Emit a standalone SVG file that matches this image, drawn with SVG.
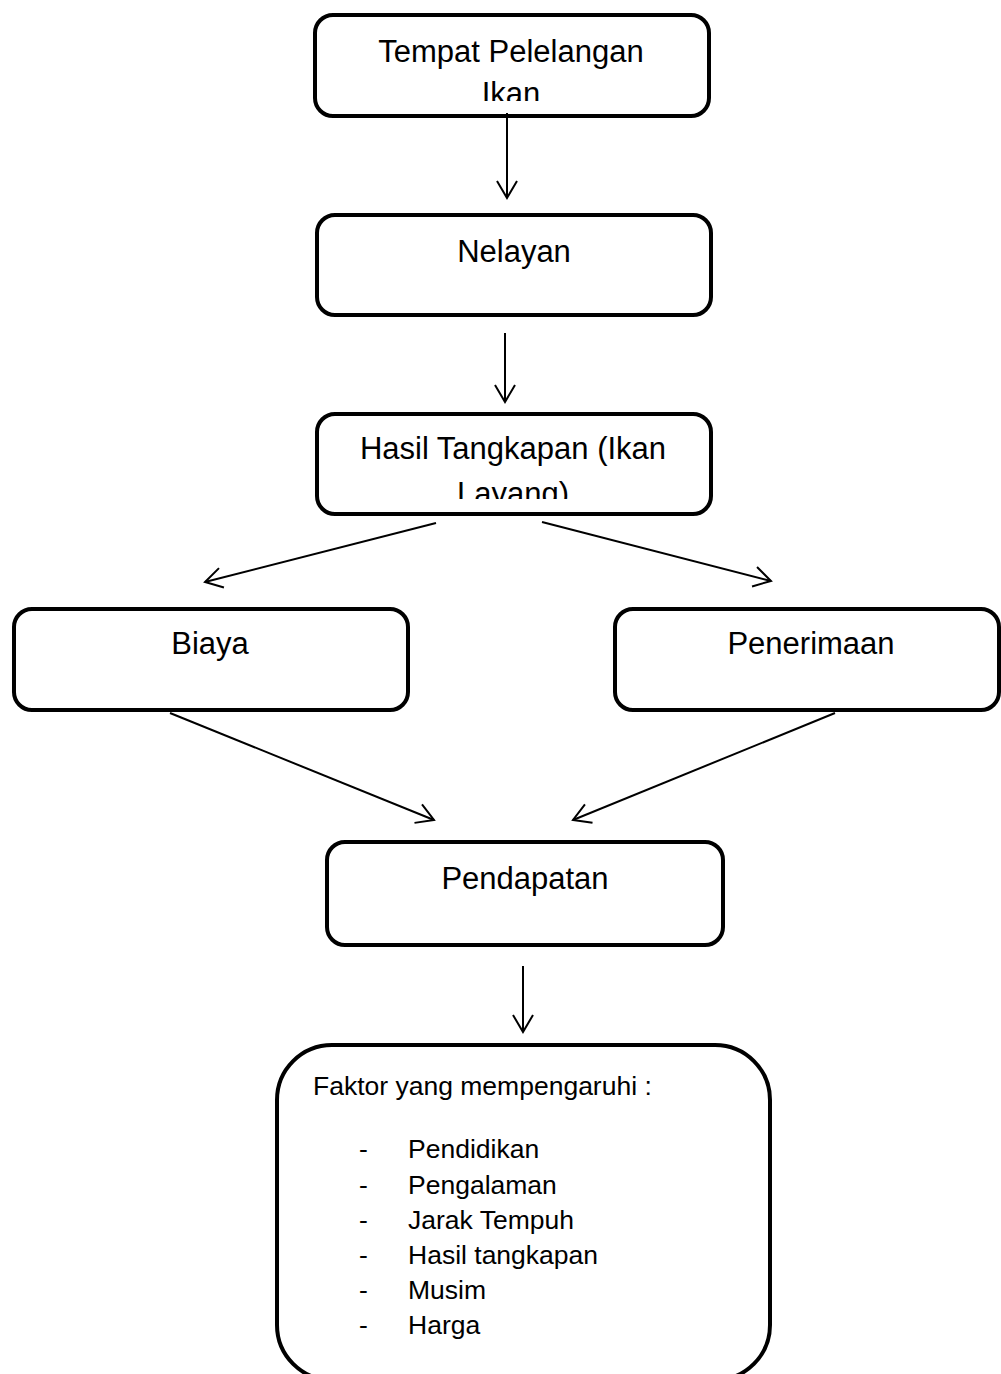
<svg xmlns="http://www.w3.org/2000/svg" width="1001" height="1374" viewBox="0 0 1001 1374">
<style>
.box{fill:#fff;stroke:#000;stroke-width:4}
.t{font-family:"Liberation Sans",Arial,sans-serif;font-size:31px;fill:#000;text-anchor:middle}
.l{font-family:"Liberation Sans",Arial,sans-serif;font-size:26.5px;fill:#000}
.c{fill:none;stroke:#000;stroke-width:2}
</style>
<defs>
<marker id="arr" markerUnits="userSpaceOnUse" viewBox="-20 -12 22 24" refX="0" refY="0" markerWidth="22" markerHeight="24" orient="auto" overflow="visible">
<path d="M-17,-10 L0,0 L-17,10" fill="none" stroke="#000" stroke-width="2"/>
</marker>
<clipPath id="clip1"><rect x="315" y="15" width="394" height="86"/></clipPath>
<clipPath id="clip3"><rect x="317" y="414" width="394" height="85"/></clipPath>
</defs>
<rect width="1001" height="1374" fill="#fff"/>
<g id="node-tpi">
<rect class="box" x="315" y="15" width="394" height="101" rx="18"/>
<g clip-path="url(#clip1)">
<text class="t" x="511" y="62">Tempat Pelelangan</text>
<text class="t" x="511" y="104">Ikan</text>
</g>
</g>
<g id="node-nelayan">
<rect class="box" x="317" y="215" width="394" height="100" rx="18"/>
<text class="t" x="514" y="262">Nelayan</text>
</g>
<g id="node-hasil">
<rect class="box" x="317" y="414" width="394" height="100" rx="18"/>
<g clip-path="url(#clip3)">
<text class="t" x="513" y="459">Hasil Tangkapan (Ikan</text>
<text class="t" x="513" y="504">Layang)</text>
</g>
</g>
<g id="node-biaya">
<rect class="box" x="14" y="609" width="394" height="101" rx="18"/>
<text class="t" x="210" y="654">Biaya</text>
</g>
<g id="node-penerimaan">
<rect class="box" x="615" y="609" width="384" height="101" rx="18"/>
<text class="t" x="811" y="654">Penerimaan</text>
</g>
<g id="node-pendapatan">
<rect class="box" x="327" y="842" width="396" height="103" rx="18"/>
<text class="t" x="525" y="889">Pendapatan</text>
</g>
<g id="node-faktor">
<rect class="box" x="277" y="1045" width="493" height="335" rx="55"/>
<text class="l" x="313" y="1095">Faktor yang mempengaruhi :</text>
<g class="l">
<text x="359" y="1158">-</text><text x="408" y="1158">Pendidikan</text>
<text x="359" y="1194">-</text><text x="408" y="1194">Pengalaman</text>
<text x="359" y="1229">-</text><text x="408" y="1229">Jarak Tempuh</text>
<text x="359" y="1264">-</text><text x="408" y="1264">Hasil tangkapan</text>
<text x="359" y="1299">-</text><text x="408" y="1299">Musim</text>
<text x="359" y="1334">-</text><text x="408" y="1334">Harga</text>
</g>
</g>
<g id="connectors">
<line class="c" x1="507" y1="113" x2="507" y2="198" marker-end="url(#arr)"/>
<line class="c" x1="505" y1="333" x2="505" y2="402" marker-end="url(#arr)"/>
<line class="c" x1="436" y1="523" x2="205" y2="582" marker-end="url(#arr)"/>
<line class="c" x1="542" y1="522" x2="771" y2="581" marker-end="url(#arr)"/>
<line class="c" x1="170" y1="713" x2="434" y2="820" marker-end="url(#arr)"/>
<line class="c" x1="835" y1="713" x2="573" y2="820" marker-end="url(#arr)"/>
<line class="c" x1="523" y1="966" x2="523" y2="1032" marker-end="url(#arr)"/>
</g>
</svg>
